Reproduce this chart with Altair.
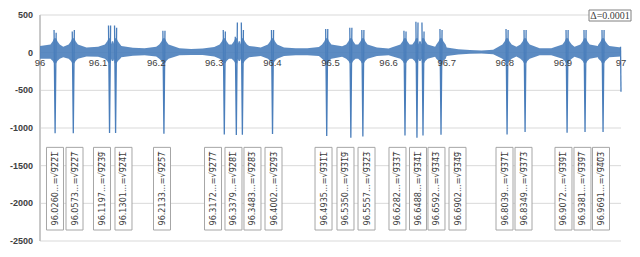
import altair as alt
import pandas as pd

# ---- data ----
roots = ["96.0260", "96.0573", "96.1197", "96.1301", "96.2133", "96.3172", "96.3379",
         "96.3483", "96.4002", "96.4935", "96.5350", "96.5557", "96.6282", "96.6488",
         "96.6592", "96.6902", "96.8039", "96.8349", "96.9072", "96.9381", "96.9691"]
radicands = ["9221", "9227", "9239", "9241", "9257", "9277", "9281", "9283", "9293", "9311",
             "9319", "9323", "9337", "9341", "9343", "9349", "9371", "9373", "9391", "9397", "9403"]
# where each label box sits along the x axis
label_x = [96.0258, 96.0594, 96.1067, 96.1437, 96.2100, 96.2978, 96.3330, 96.3657, 96.4019,
           96.4880, 96.5258, 96.5620, 96.6153, 96.6506, 96.6824, 96.7186, 96.7995, 96.8322,
           96.9010, 96.9337, 96.9656]
peak_left = [300, 280, 360, 360, 290, 300, 210, 400, 300, 315, 330, 300, 290, 410, 400, 315,
             315, 300, 300, 300, 300]
peak_right = [265, 300, 360, 330, 290, 280, 400, 300, 300, 315, 330, 300, 280, 400, 280, 300,
              300, 300, 300, 300, 300]
dips = [-1070, -1070, -1067, -1067, -1075, -1085, -1094, -1090, -1080, -1107, -1129, -1112,
        -1100, -1130, -1100, -1090, -1085, -1054, -1063, -1054, -1054]

# envelope of the dense oscillation (every 0.02)
env_x = [96.00, 96.02, 96.04, 96.06, 96.08, 96.10, 96.12, 96.14, 96.16, 96.18, 96.20,
         96.22, 96.24, 96.26, 96.28, 96.30, 96.32, 96.34, 96.36, 96.38, 96.40,
         96.42, 96.44, 96.46, 96.48, 96.50, 96.52, 96.54, 96.56, 96.58, 96.60,
         96.62, 96.64, 96.66, 96.68, 96.70, 96.72, 96.74, 96.76, 96.78, 96.80,
         96.82, 96.84, 96.86, 96.88, 96.90, 96.92, 96.94, 96.96, 96.98, 97.00]
env_hi = [90, 110, 80, 110, 70, 80, 120, 90, 65, 60, 80,
          90, 60, 50, 55, 75, 110, 130, 90, 70, 110,
          70, 60, 60, 75, 100, 85, 110, 100, 70, 55,
          75, 110, 120, 80, 70, 45, 35, 30, 40, 90,
          80, 95, 60, 60, 90, 80, 100, 90, 90, 70]
env_lo = [-80, -90, -60, -90, -50, -55, -100, -60, -40, -35, -50,
          -60, -35, -30, -30, -50, -80, -100, -60, -45, -80,
          -45, -35, -35, -45, -70, -55, -80, -70, -45, -35,
          -45, -80, -90, -55, -45, -25, -15, -12, -20, -60,
          -50, -65, -35, -35, -60, -55, -70, -60, -60, -50]
# widening of the band next to each spike: offset from the root, upper, lower
flare_off = [0.008, 0.004, 0.0018]
flare_hi = [110, 150, 190]
flare_lo = [-80, -110, -140]
# final drop at x = 97
tail_x = [96.9992, 97.0]
tail_y = [80, -520]

x_ticks = [96.0, 96.1, 96.2, 96.3, 96.4, 96.5, 96.6, 96.7, 96.8, 96.9, 97.0]
x_tick_labels = ["96", "96.1", "96.2", "96.3", "96.4", "96.5", "96.6", "96.7", "96.8", "96.9", "97"]
y_ticks = [500, 0, -500, -1000, -1500, -2000, -2500]
y_tick_labels = ["500", "0", "-500", "-1000", "-1500", "-2000", "-2500"]

BLUE = "#4a7ebb"
root_vals = [float(r) for r in roots]

# ---- tables ----
band_rows = []
for x, h, l in zip(env_x, env_hi, env_lo):
    if min(abs(x - r) for r in root_vals) > 0.009:
        band_rows.append((x, h, l))
for r in root_vals:
    for o, h, l in zip(flare_off, flare_hi, flare_lo):
        band_rows.append((r - o, h, l))
        band_rows.append((r + o, h, l))
band_rows.sort()
band = pd.DataFrame(band_rows, columns=["x", "hi", "lo"])
band = band[(band.x >= 96) & (band.x <= 97)]

spike_rows = []
for i, (r, pl, pr, d) in enumerate(zip(root_vals, peak_left, peak_right, dips)):
    spike_rows += [(i, 0, r - 0.0018, pl), (i, 1, r, d), (i, 2, r + 0.0018, pr)]
spikes = pd.DataFrame(spike_rows, columns=["id", "ord", "x", "y"])
tail = pd.DataFrame({"x": tail_x, "y": tail_y})

labels = pd.DataFrame({
    "x": label_x,
    "top": -1257,
    "bot": -2354,
    "mid": -1805,
    "label": [f"{r}...=\u221a" + "".join(c + "\u0305" for c in rad) for r, rad in zip(roots, radicands)],
})
yt = pd.DataFrame({"v": y_ticks, "t": y_tick_labels})
xt = pd.DataFrame({"v": x_ticks, "t": x_tick_labels, "zero": 0})

xs = alt.Scale(domain=[96, 97], nice=False, zero=False)
ys = alt.Scale(domain=[-2500, 500], nice=False)
X = lambda f: alt.X(f, scale=xs, axis=None)
Y = lambda f: alt.Y(f, scale=ys, axis=None)

grid = alt.Chart(yt).mark_rule(color="#d9d9d9", strokeWidth=1).encode(y=Y("v:Q"))
ydomain = alt.Chart(yt).mark_rule(color="#c8c8c8", strokeWidth=1).encode(
    x=alt.value(0), y=alt.value(0), y2=alt.value(226))
ylabels = alt.Chart(yt).mark_text(
    align="right", baseline="middle", font="Liberation Sans", fontSize=9, fontWeight="bold",
    color="#404040"
).encode(x=alt.value(-7), y=Y("v:Q"), text="t:N")

band_area = alt.Chart(band).mark_area(color=BLUE, opacity=0.9, strokeWidth=0).encode(
    x=X("x:Q"), y=Y("hi:Q"), y2="lo:Q")

boxes = alt.Chart(labels).mark_rect(width=17, fill="white", stroke="#a6a6a6", strokeWidth=1).encode(
    x=X("x:Q"), y=Y("top:Q"), y2="bot:Q")

texts = alt.Chart(labels).mark_text(
    angle=270, fontSize=9, font="DejaVu Sans Condensed", color="#404040",
    align="center", baseline="middle"
).encode(x=X("x:Q"), y=Y("mid:Q"), text="label:N")

spike_lines = alt.Chart(spikes).mark_line(color=BLUE, strokeWidth=1.3).encode(
    x=X("x:Q"), y=Y("y:Q"), detail="id:N", order="ord:Q")

tail_line = alt.Chart(tail).mark_line(color=BLUE, strokeWidth=1.3).encode(
    x=X("x:Q"), y=Y("y:Q"))

xlabels = alt.Chart(xt).mark_text(
    align="center", baseline="top", font="Liberation Sans", fontSize=9.5, color="#404040", dy=5
).encode(x=X("v:Q"), y=Y("zero:Q"), text="t:N")

dbox = alt.Chart(pd.DataFrame({"a": [0]})).mark_rect(
    fill="white", stroke="#808080", strokeWidth=1
).encode(x=alt.value(549), x2=alt.value(591), y=alt.value(-5), y2=alt.value(6))
dtext = alt.Chart(pd.DataFrame({"t": ["\u0394=0.0001"]})).mark_text(
    font="Liberation Serif", fontSize=10, color="#404040", align="center", baseline="middle"
).encode(x=alt.value(570), y=alt.value(0.5), text="t:N")

frame = alt.Chart(pd.DataFrame({"a": [0]})).mark_rect(
    fill="transparent", stroke="#d0d0d0", strokeWidth=1, cornerRadius=4
).encode(x=alt.value(-35), x2=alt.value(596), y=alt.value(-10), y2=alt.value(235))

chart = alt.layer(grid, ydomain, ylabels, boxes, texts, band_area, spike_lines, tail_line,
                  xlabels, dbox, dtext, frame).properties(
    width=581, height=226,
    background="white",
    autosize=alt.AutoSizeParams(type="none"),
    padding={"left": 32, "top": 7, "right": 11, "bottom": 8},
).configure_view(stroke=None)

chart.save("out.html", embed_options={"renderer": "svg", "actions": False})
